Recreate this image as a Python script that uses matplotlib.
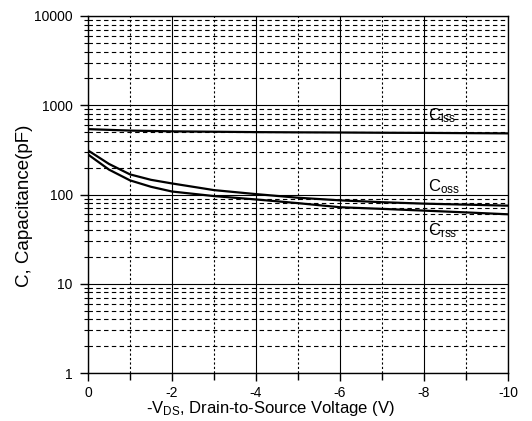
import matplotlib
matplotlib.use("Agg")
import matplotlib.pyplot as plt
from matplotlib.ticker import LogLocator, FixedLocator, NullFormatter

plt.rcParams['font.family'] = ['Liberation Sans', 'DejaVu Sans']
plt.rcParams['mathtext.fontset'] = 'custom'
plt.rcParams['mathtext.rm'] = 'Liberation Sans'
plt.rcParams['mathtext.it'] = 'Liberation Sans:italic'

# values
vds = [0, -0.5, -1, -1.5, -2, -3, -4, -5, -6, -7, -8, -9, -10]
ciss = [540, 530, 520, 515, 510, 505, 500, 497, 495, 492, 490, 487, 484]
coss = [312, 220, 168, 146, 133, 112, 101, 92, 86, 82, 79, 77, 75]
crss = [281, 190, 144, 122, 108, 96, 88, 80, 72, 69, 66, 63, 60]

x_ticks = [0, -2, -4, -6, -8, -10]
x_minor = [-1, -3, -5, -7, -9]
y_ticks = [1, 10, 100, 1000, 10000]
y_ticklabels = ["1", "10", "100", "1000", "10000"]

fig = plt.figure(figsize=(5.32, 4.21), dpi=100)
ax = fig.add_axes([0.1654, 0.114, 0.7896, 0.848])

ax.set_yscale('log')
ax.set_xlim(0, -10)
ax.set_ylim(1, 10000)

ax.set_xticks(x_ticks)
ax.set_xticklabels([str(v) for v in x_ticks])
ax.xaxis.set_minor_locator(FixedLocator(x_minor))
ax.set_yticks(y_ticks)
ax.set_yticklabels(y_ticklabels)
ax.yaxis.set_minor_locator(LogLocator(base=10, subs=range(2, 10)))
ax.yaxis.set_minor_formatter(NullFormatter())

ax.grid(True, which='major', color='black', lw=0.8, ls='-')
ax.grid(True, which='minor', axis='y', color='black', lw=0.8, ls=(0, (4, 3)))
ax.grid(True, which='minor', axis='x', color='black', lw=0.8, ls=(0, (2, 2)))

ax.tick_params(which='major', direction='out', length=6, width=1, labelsize=10, pad=5)
ax.tick_params(axis='x', which='major', pad=3)
ax.tick_params(axis='x', which='minor', direction='out', length=5, width=1)
ax.tick_params(axis='y', which='minor', direction='out', length=3, width=0.8)

for s in ax.spines.values():
    s.set_linewidth(1.0)

ax.plot(vds, ciss, color='black', lw=1.6)
ax.plot(vds, coss, color='black', lw=1.6)
ax.plot(vds, crss, color='black', lw=1.6)

ax.text(-8.1, 1000 * 10 ** (-10 / 89.0), r'C$_{\mathrm{iss}}$', fontsize=12, va='center', ha='left')
ax.text(-8.1, 100 * 10 ** (8 / 89.0), r'C$_{\mathrm{oss}}$', fontsize=12, va='center', ha='left')
ax.text(-8.1, 100 * 10 ** (-36 / 89.0), r'C$_{\mathrm{rss}}$', fontsize=12, va='center', ha='left')

ax.set_xlabel(r'-V$_{\mathrm{DS}}$, Drain-to-Source Voltage (V)', fontsize=12)
ax.xaxis.set_label_coords(0.433, -0.074)
ax.set_ylabel('C, Capacitance(pF)', fontsize=13.5)
ax.yaxis.set_label_coords(-0.132, 0.468)

fig.savefig('out.png', dpi=100)
